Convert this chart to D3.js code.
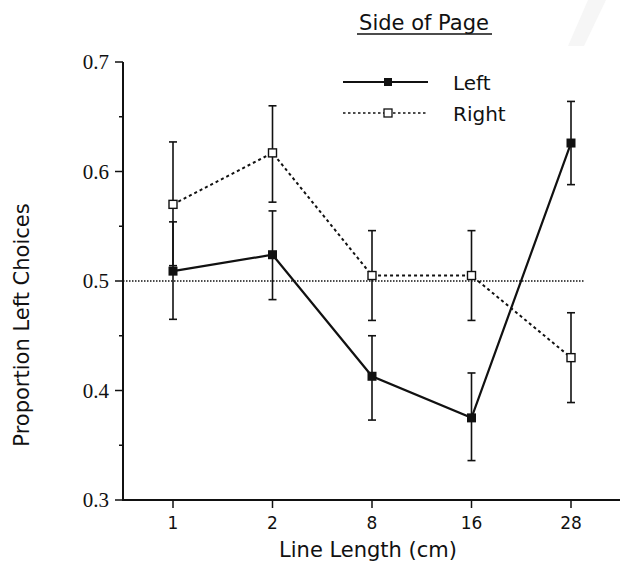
<!DOCTYPE html>
<html><head><meta charset="utf-8">
<script src="https://cdn.jsdelivr.net/npm/d3@7"></script>
<style>body{margin:0;background:#fff;} text{fill:#111;}</style>
</head><body>
<svg id="c" width="623" height="563"></svg>
<script>
const categories = ["1", "2", "8", "16", "28"];
const leftMean = [0.509, 0.524, 0.413, 0.375, 0.626];
const leftLow  = [0.465, 0.483, 0.373, 0.336, 0.588];
const leftHigh = [0.554, 0.564, 0.450, 0.416, 0.664];
const rightMean = [0.570, 0.617, 0.505, 0.505, 0.430];
const rightLow  = [0.514, 0.572, 0.464, 0.464, 0.389];
const rightHigh = [0.627, 0.660, 0.546, 0.546, 0.471];
const yTicks = [0.3, 0.4, 0.5, 0.6, 0.7];
const yMinorTicks = [0.35, 0.45, 0.55, 0.65];
const refValue = 0.5;
const seriesNames = ["Left", "Right"];

const svg = d3.select("#c");
const x = d3.scalePoint().domain(categories).range([173, 571]);
const y = d3.scaleLinear().domain([0.3, 0.7]).range([500, 62]);

// faint scan artifact
svg.append("path").attr("d","M588,0 L606,0 L584,46 L568,46 Z").attr("fill","#f6f6f6");

// axes
const gy = svg.append("g").attr("transform","translate(123,0)");
gy.append("line").attr("x1",0).attr("x2",0).attr("y1",y(0.7)).attr("y2",y(0.3)).attr("stroke","#111").attr("stroke-width",2);
gy.selectAll(".mj").data(yTicks).join("line").attr("x1",-8).attr("x2",0)
  .attr("y1",d=>y(d)).attr("y2",d=>y(d)).attr("stroke","#111").attr("stroke-width",1.5);
gy.selectAll(".mn").data(yMinorTicks).join("line").attr("x1",-4).attr("x2",0)
  .attr("y1",d=>y(d)).attr("y2",d=>y(d)).attr("stroke","#111").attr("stroke-width",1.5);
gy.selectAll(".tl").data(yTicks).join("text").attr("x",-14).attr("y",d=>y(d)+7)
  .attr("text-anchor","end").attr("font-family","Liberation Serif").attr("font-size",21)
  .text(d=>d3.format(".1f")(d));

const gx = svg.append("g");
gx.append("line").attr("x1",122).attr("x2",620).attr("y1",500).attr("y2",500).attr("stroke","#111").attr("stroke-width",2);
gx.selectAll(".xt").data(categories).join("line").attr("x1",d=>x(d)).attr("x2",d=>x(d))
  .attr("y1",500).attr("y2",508).attr("stroke","#111").attr("stroke-width",1.5);
gx.selectAll(".xl").data(categories).join("text").attr("x",d=>x(d)).attr("y",529)
  .attr("text-anchor","middle").attr("font-family","DejaVu Sans").attr("font-size",17).text(d=>d);

svg.append("text").attr("x",368).attr("y",557).attr("text-anchor","middle")
  .attr("font-family","DejaVu Sans").attr("font-size",21).text("Line Length (cm)");
svg.append("text").attr("transform","translate(29,325) rotate(-90)").attr("text-anchor","middle")
  .attr("font-family","DejaVu Sans").attr("font-size",21).text("Proportion Left Choices");

// title
svg.append("text").attr("x",424).attr("y",30).attr("text-anchor","middle")
  .attr("font-family","DejaVu Sans").attr("font-size",21).text("Side of Page");
svg.append("line").attr("x1",357).attr("x2",492).attr("y1",34).attr("y2",34).attr("stroke","#111").attr("stroke-width",1.3);

// reference line
svg.append("line").attr("x1",123).attr("x2",584).attr("y1",y(refValue)).attr("y2",y(refValue))
  .attr("stroke","#111").attr("stroke-width",1.5).attr("stroke-dasharray","1.5,1.5");

function errorBars(mean, lo, hi){
  const g = svg.append("g");
  categories.forEach((c,i)=>{
    g.append("line").attr("x1",x(c)).attr("x2",x(c)).attr("y1",y(lo[i])).attr("y2",y(hi[i])).attr("stroke","#111").attr("stroke-width",1.6);
    [lo[i],hi[i]].forEach(v=>g.append("line").attr("x1",x(c)-4).attr("x2",x(c)+4).attr("y1",y(v)).attr("y2",y(v)).attr("stroke","#111").attr("stroke-width",1.6));
  });
}
errorBars(rightMean, rightLow, rightHigh);
errorBars(leftMean, leftLow, leftHigh);

const line = d3.line().x((d,i)=>x(categories[i])).y(d=>y(d));
svg.append("path").attr("d",line(rightMean)).attr("fill","none").attr("stroke","#111")
  .attr("stroke-width",2).attr("stroke-dasharray","3,3");
svg.append("path").attr("d",line(leftMean)).attr("fill","none").attr("stroke","#111").attr("stroke-width",2.2);

svg.selectAll(".rm").data(rightMean).join("rect").attr("x",(d,i)=>x(categories[i])-4).attr("y",d=>y(d)-4)
  .attr("width",8).attr("height",8).attr("fill","#fff").attr("stroke","#111").attr("stroke-width",1.4);
svg.selectAll(".lm").data(leftMean).join("rect").attr("x",(d,i)=>x(categories[i])-4.5).attr("y",d=>y(d)-4.5)
  .attr("width",9).attr("height",9).attr("fill","#111");

// legend
const lg = svg.append("g");
lg.append("line").attr("x1",343).attr("x2",428).attr("y1",82).attr("y2",82).attr("stroke","#111").attr("stroke-width",2);
lg.append("rect").attr("x",384).attr("y",78).attr("width",8).attr("height",8).attr("fill","#111");
lg.append("line").attr("x1",343).attr("x2",428).attr("y1",113).attr("y2",113).attr("stroke","#111").attr("stroke-width",1.6).attr("stroke-dasharray","2.5,2.5");
lg.append("rect").attr("x",384).attr("y",109).attr("width",8).attr("height",8).attr("fill","#fff").attr("stroke","#111").attr("stroke-width",1.3);
lg.append("text").attr("x",453).attr("y",90).attr("font-family","DejaVu Sans").attr("font-size",20).text(seriesNames[0]);
lg.append("text").attr("x",453).attr("y",121).attr("font-family","DejaVu Sans").attr("font-size",20).text(seriesNames[1]);
</script>
</body></html>
